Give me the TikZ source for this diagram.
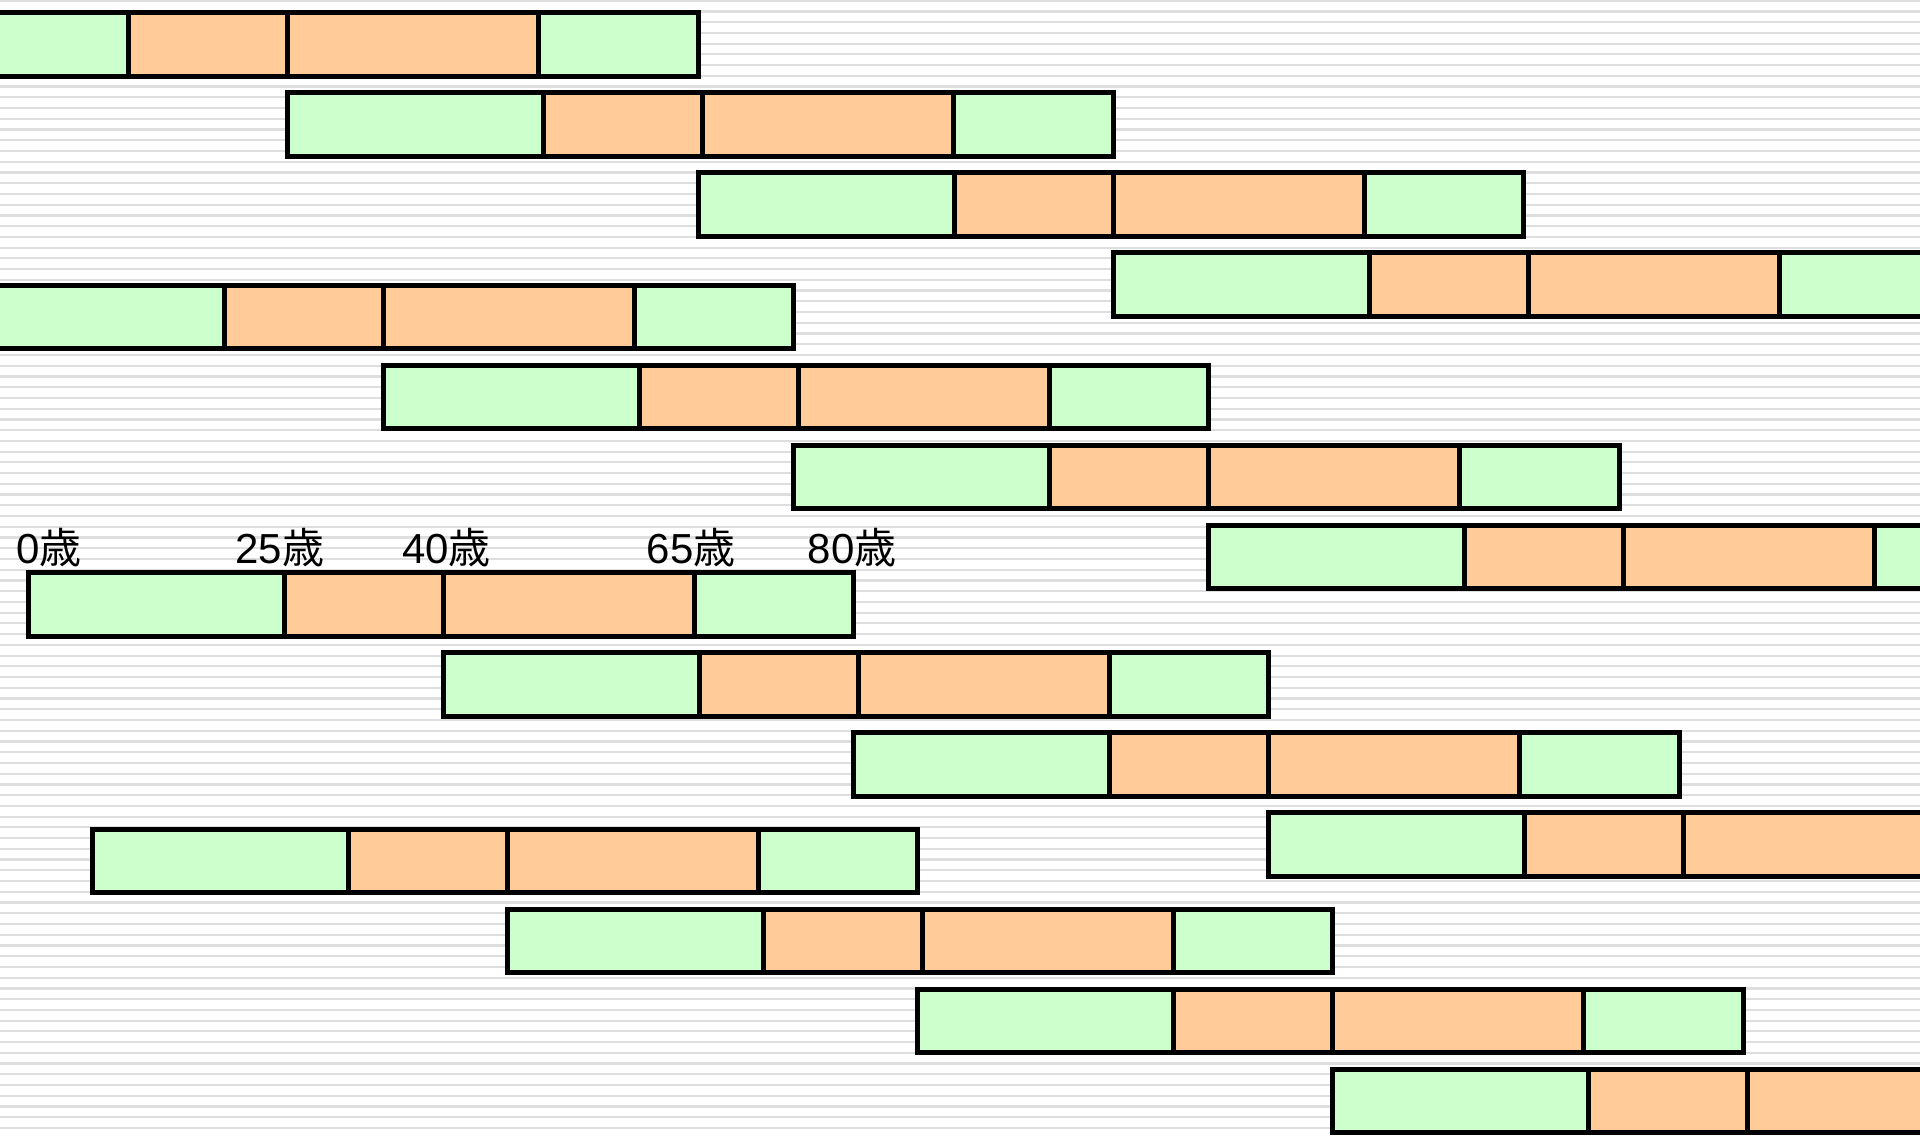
\documentclass[tikz,border=0pt]{standalone}
\usepackage{fontspec}
\setmainfont{Liberation Sans}
\newfontfamily\cjk{Noto Sans CJK JP}
\definecolor{youthgreen}{HTML}{CCFFCC}
\definecolor{careerorange}{HTML}{FFCC99}
\definecolor{stripegray}{HTML}{DEDEDE}
\begin{document}
\begin{tikzpicture}[x=1pt,y=-1pt,
  segbox/.style={draw=black,line width=5pt},
  youth/.style={segbox,fill=youthgreen},
  career/.style={segbox,fill=careerorange},
  agelbl/.style={inner sep=0pt,anchor=base,font=\fontsize{42}{50}\selectfont},
  lifebar/.pic={
    \filldraw[youth]  (0,0)   rectangle (256,63.5);
    \filldraw[career] (256,0) rectangle (415,63.5);
    \filldraw[career] (415,0) rectangle (666,63.5);
    \filldraw[youth]  (666,0) rectangle (825.5,63.5);
  }]
\useasboundingbox (0,0) rectangle (1920,1138);
\clip (0,0) rectangle (1920,1138);
\fill[white] (0,0) rectangle (1920,1138);
\foreach \k in {0,...,105}
  \draw[stripegray,line width=2.2pt] (0,{0.7+10.736*\k}) -- (1920,{0.7+10.736*\k});
\foreach \gx/\gy in {-127.5/12.5,-32/285,28/572.5,92/829}
  \foreach \ox [count=\i from 0] in {0,415,825.5,1240.5}
    \pic at ({\gx+\ox},{\gy+80*\i}) {lifebar};
\node[agelbl] (a0)  at (49,563)   {0{\cjk 歳}};
\node[agelbl] (a25) at (280,563)  {25{\cjk 歳}};
\node[agelbl] (a40) at (446.5,563) {40{\cjk 歳}};
\node[agelbl] (a65) at (691,563)  {65{\cjk 歳}};
\node[agelbl] (a80) at (852,563)  {80{\cjk 歳}};
\end{tikzpicture}
\end{document}
